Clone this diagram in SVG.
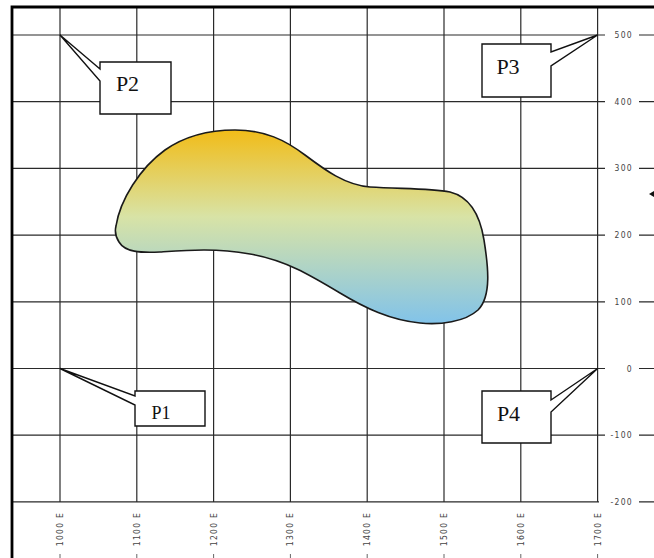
<svg xmlns="http://www.w3.org/2000/svg" width="654" height="558" viewBox="0 0 654 558">
<style>
.g{stroke:#2a2a2a;stroke-width:1.2;fill:none}
.b{stroke:#000;stroke-width:2.8;fill:none}
.ax{font-family:"DejaVu Sans Condensed","DejaVu Sans",sans-serif;font-size:8.5px;fill:#444;letter-spacing:1.3px}
.co{fill:#fff;stroke:#111;stroke-width:1.4;stroke-linejoin:miter}
.pl{font-family:"Liberation Serif","Times New Roman",serif;font-size:22px;fill:#111}
.tk{stroke:#666;stroke-width:1}
</style>
<defs>
<linearGradient id="fillg" gradientUnits="userSpaceOnUse" x1="0" y1="130" x2="0" y2="323">
<stop offset="0" stop-color="#F1BC18"/>
<stop offset="0.45" stop-color="#D8E3A6"/>
<stop offset="1" stop-color="#82C3E9"/>
</linearGradient>
</defs>
<rect width="654" height="558" fill="#fff"/>
<g id="grid">
<g class="g">
<line x1="60" y1="7" x2="60" y2="502"/>
<line x1="136.8" y1="7" x2="136.8" y2="502"/>
<line x1="213.6" y1="7" x2="213.6" y2="502"/>
<line x1="290.4" y1="7" x2="290.4" y2="502"/>
<line x1="367.2" y1="7" x2="367.2" y2="502"/>
<line x1="444" y1="7" x2="444" y2="502"/>
<line x1="520.8" y1="7" x2="520.8" y2="502"/>
<line x1="597.6" y1="7" x2="597.6" y2="502"/>
<path d="M12 35H605M639 35H654"/>
<path d="M12 101.7H605M639 101.7H654"/>
<path d="M12 168.4H605M639 168.4H654"/>
<path d="M12 235.1H605M639 235.1H654"/>
<path d="M12 301.8H605M639 301.8H654"/>
<path d="M12 368.5H605M639 368.5H654"/>
<path d="M12 435.2H605M639 435.2H654"/>
<path d="M12 501.9H599M639 501.9H654"/>
</g>
<g class="ax" text-anchor="end">
<text x="633" y="38">500</text>
<text x="633" y="104.7">400</text>
<text x="633" y="171.4">300</text>
<text x="633" y="238.1">200</text>
<text x="633" y="304.8">100</text>
<text x="633" y="371.5">0</text>
<text x="633" y="438.2">-100</text>
<text x="633" y="504.9">-200</text>
</g>
<g class="ax" text-anchor="middle">
<text transform="translate(63,529) rotate(-90)">1000 E</text>
<text transform="translate(139.8,529) rotate(-90)">1100 E</text>
<text transform="translate(216.6,529) rotate(-90)">1200 E</text>
<text transform="translate(293.4,529) rotate(-90)">1300 E</text>
<text transform="translate(370.2,529) rotate(-90)">1400 E</text>
<text transform="translate(447,529) rotate(-90)">1500 E</text>
<text transform="translate(523.8,529) rotate(-90)">1600 E</text>
<text transform="translate(600.6,529) rotate(-90)">1700 E</text>
</g>
<g class="tk">
<line x1="60" y1="554" x2="60" y2="558"/>
<line x1="136.8" y1="554" x2="136.8" y2="558"/>
<line x1="213.6" y1="554" x2="213.6" y2="558"/>
<line x1="290.4" y1="554" x2="290.4" y2="558"/>
<line x1="367.2" y1="554" x2="367.2" y2="558"/>
<line x1="444" y1="554" x2="444" y2="558"/>
<line x1="520.8" y1="554" x2="520.8" y2="558"/>
<line x1="597.6" y1="554" x2="597.6" y2="558"/>
</g>
<path class="b" d="M12 558V7H654"/>
<polygon points="649,194 654,191 654,197" fill="#111"/>
</g>
<g id="region">
<path d="M116 226C120 200 140 168 165 150C185 136 210 130 235 130C265 130 285 140 305 155C325 170 345 185 370 187C400 189 430 188 450 192C470 197 480 215 484 240C488 265 492 296 478 310C465 322 440 325 420 323C390 320 365 308 340 293C310 275 285 260 250 254C215 248 190 250 160 252C140 253 125 252 119 242C115 236 115 230 116 226Z" fill="url(#fillg)" stroke="#1a1a1a" stroke-width="1.6"/>
</g>
<g id="connectors"></g>
<g id="P2">
<polygon class="co" points="100,62 171,62 171,114 100,114 100,81 60,35 100,69"/>
<text class="pl" x="127.5" y="91" text-anchor="middle">P2</text>
</g>
<g id="P3">
<polygon class="co" points="482,44 551,44 551,52 597.6,35 551,66 551,97 482,97"/>
<text class="pl" x="508" y="74" text-anchor="middle">P3</text>
</g>
<g id="P1">
<polygon class="co" points="135,391 205,391 205,426 135,426 135,405 60,368.5 135,396"/>
<text class="pl" x="161" y="419" text-anchor="middle" style="font-size:18px">P1</text>
</g>
<g id="P4">
<polygon class="co" points="482,391 551,391 551,400 597.6,368.5 551,412 551,443 482,443"/>
<text class="pl" x="508.5" y="420.5" text-anchor="middle">P4</text>
</g>
</svg>
